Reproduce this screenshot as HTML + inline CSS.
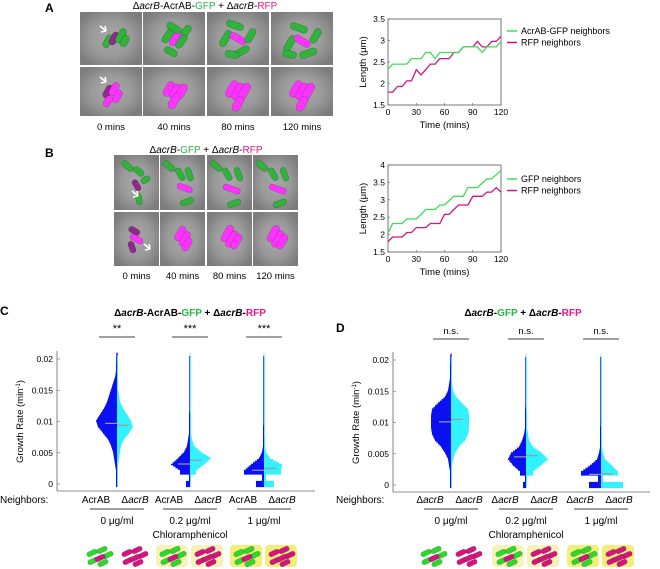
<!DOCTYPE html>
<html><head><meta charset="utf-8"><style>
html,body{margin:0;padding:0;background:#fff}
svg{display:block;font-family:"Liberation Sans",Arial,sans-serif}
</style></head><body>
<svg id="fig" width="660" height="569" viewBox="0 0 660 569" xmlns="http://www.w3.org/2000/svg">
<defs>
<radialGradient id="halo" cx="50%" cy="50%" r="60%"><stop offset="0" stop-color="#a8a8a8"/><stop offset="0.55" stop-color="#9a9a9a"/><stop offset="1" stop-color="#7c7c7c"/></radialGradient>
</defs>
<text x="45" y="12" font-size="12" font-weight="bold">A</text>
<text x="45" y="157" font-size="12" font-weight="bold">B</text>
<text x="0" y="315" font-size="12" font-weight="bold">C</text>
<text x="336" y="332" font-size="12" font-weight="bold">D</text>

<text x="205" y="9" font-size="10" text-anchor="middle">Δ<tspan font-style="italic">acrB</tspan>-AcrAB-<tspan fill="#2db34a">GFP</tspan> + Δ<tspan font-style="italic">acrB</tspan>-<tspan fill="#e4178c">RFP</tspan></text>
<text x="206" y="153" font-size="10" text-anchor="middle">Δ<tspan font-style="italic">acrB</tspan>-<tspan fill="#2db34a">GFP</tspan> + Δ<tspan font-style="italic">acrB</tspan>-<tspan fill="#e4178c">RFP</tspan></text>
<g id="micro"></g>
<g id="charts"></g>

<text x="190" y="316" font-size="10" font-weight="bold" text-anchor="middle">Δ<tspan font-style="italic">acrB</tspan>-AcrAB-<tspan fill="#2db34a">GFP</tspan> + Δ<tspan font-style="italic">acrB</tspan>-<tspan fill="#e4178c">RFP</tspan></text>
<text x="523" y="316" font-size="10" font-weight="bold" text-anchor="middle">Δ<tspan font-style="italic">acrB</tspan>-<tspan fill="#2db34a">GFP</tspan> + Δ<tspan font-style="italic">acrB</tspan>-<tspan fill="#e4178c">RFP</tspan></text>
<g id="violins"></g>
</svg>
<script>
// ---------- Line chart data ----------
const timesMin = [0,5,10,15,20,25,30,35,40,45,50,55,60,65,70,75,80,85,90,95,100,105,110,115,120];
const aGreen = [2.33,2.45,2.45,2.45,2.45,2.58,2.58,2.58,2.72,2.72,2.58,2.72,2.72,2.72,2.72,2.72,2.85,2.85,2.85,2.85,2.72,2.85,2.85,2.85,2.98];
const aRed   = [1.8,1.8,1.93,1.93,2.06,2.06,2.32,2.2,2.32,2.45,2.45,2.58,2.58,2.58,2.72,2.72,2.85,2.85,2.85,2.98,2.85,2.85,2.98,2.98,3.1];
const bGreen = [2.05,2.32,2.32,2.32,2.45,2.45,2.45,2.58,2.72,2.72,2.72,2.85,2.85,2.98,3.1,3.1,3.1,3.35,3.35,3.35,3.48,3.6,3.6,3.72,3.85];
const bRed   = [1.8,1.93,1.93,1.93,2.06,2.06,2.2,2.2,2.2,2.32,2.32,2.32,2.58,2.58,2.72,2.85,2.85,2.85,3.1,3.1,3.1,3.22,3.22,3.35,3.22];
const xTicks = [0,30,60,90,120];
const aYTicks = [1.5,2,2.5,3,3.5];
const bYTicks = [1.5,2,2.5,3,3.5,4];
const aLegend = ["AcrAB-GFP neighbors","RFP neighbors"];
const bLegend = ["GFP neighbors","RFP neighbors"];

// ---------- Violin data (half-widths per 0.001 bin from 0 to 0.020) ----------
const rateTicks = [0,0.005,0.01,0.015,0.02];
const rateTickLabels = ["0","0.005","0.01","0.015","0.02"];
const cLeft1  = [1,1,1,2,3,4,6,9,14,19,21,17,13,10,8,6,4,2,1,1,0.5];
const cRight1 = [0,0,0,1,2,3,4,7,12,16,14,10,6,3,2,1,1,1,0.5,0.5,0.5];
const cLeft2  = [4,1,10,19,12,6,3,2,1,1,1,1,0.5,0.5,0.5,0.5,0.5,0.5,0.5,0.5,0];
const cRight2 = [0,1,6,14,21,11,4,2,1,1,1,1,0.5,0.5,0.5,0.5,0.5,0.5,0.5,0.5,0];
const cLeft3  = [8,2,20,13,5,2,1,1,1,1,0.5,0.5,0.5,0.5,0.5,0.5,0.5,0.5,0.5,0.5,0];
const cRight3 = [10,2,17,18,6,2,1,1,0.5,0.5,0.5,0.5,0.5,0.5,0.5,0.5,0.5,0.5,0.5,0.5,0];
const cMedL = [0.0097,0.0032,0.0022];
const cMedR = [0.0094,0.0038,0.0025];
const dLeft1  = [1,1,1,2,3,6,10,16,19,20,20,20,19,13,6,3,2,1,1,1,0.5];
const dRight1 = [0,0,1,1,2,4,8,14,17,18,18,18,17,11,5,2,1,1,0.5,0.5,0.5];
const dLeft2  = [3,1,6,13,18,15,7,4,2,1,1,1,1,0.5,0.5,0.5,0.5,0.5,0.5,0.5,0];
const dRight2 = [0,1,7,15,22,16,7,3,2,1,1,1,0.5,0.5,0.5,0.5,0.5,0.5,0.5,0.5,0];
const dLeft3  = [12,3,20,11,4,2,1,1,1,1,0.5,0.5,0.5,0.5,0.5,0.5,0.5,0.5,0.5,0.5,0];
const dRight3 = [22,2,17,11,4,2,1,1,0.5,0.5,1,0.5,0.5,0.5,0.5,0.5,0.5,0.5,0.5,0.5,0];
const dMedL = [0.0101,0.0045,0.0017];
const dMedR = [0.0105,0.0047,0.0018];
const cSig = ["**","***","***"];
const dSig = ["n.s.","n.s.","n.s."];
const concLabels = ["0 μg/ml","0.2 μg/ml","1 μg/ml"];

const NS="http://www.w3.org/2000/svg";
function mk(tag, attrs, parent, text){
  const e=document.createElementNS(NS,tag);
  for(const k in attrs) e.setAttribute(k,attrs[k]);
  if(text!==undefined) e.textContent=text;
  parent.appendChild(e); return e;
}

// ---------- Line charts ----------
const charts=document.getElementById('charts');
function lineChart(cfg){
  const g=mk('g',{},charts);
  
  
  const xs=v=>cfg.x0+(v-0)/120*(cfg.x1-cfg.x0);
  const ys=v=>cfg.y1-(v-cfg.ymin)/(cfg.ymax-cfg.ymin)*(cfg.y1-cfg.y0);
  const box=mk('rect',{x:cfg.x0,y:cfg.y0,width:cfg.x1-cfg.x0,height:cfg.y1-cfg.y0,fill:'none',stroke:'#555','stroke-width':0.8},g);
  
  
  xTicks.forEach(t=>{
    mk('line',{x1:xs(t),x2:xs(t),y1:cfg.y1,y2:cfg.y1-2,stroke:'#555','stroke-width':0.6},g);
    const tl=mk('text',{x:xs(t),y:cfg.y1+10,'font-size':8.5,'text-anchor':'middle'},g,String(t));
    
    
  });
  cfg.yt.forEach(t=>{
    mk('line',{x1:cfg.x0,x2:cfg.x0+2,y1:ys(t),y2:ys(t),stroke:'#555','stroke-width':0.6},g);
    const tl=mk('text',{x:cfg.x0-3,y:ys(t)+3,'font-size':8.5,'text-anchor':'end'},g,String(t));
    
    
  });
  const xt=mk('text',{x:(cfg.x0+cfg.x1)/2,y:cfg.y1+23,'font-size':9.5,'text-anchor':'middle'},g,'Time (mins)');
  
  
  const cy=(cfg.y0+cfg.y1)/2;
  const yt=mk('text',{x:cfg.x0-22,y:cy,'font-size':9.5,'text-anchor':'middle',transform:`rotate(-90 ${cfg.x0-22} ${cy})`},g,'Length (μm)');
  
  
  [[cfg.red,'#d4157f'],[cfg.green,'#3fdc55']].forEach(([arr,col],i)=>{
    const p=arr.map((v,j)=>(j?'L':'M')+xs(timesMin[j]).toFixed(1)+' '+ys(v).toFixed(1)).join(' ');
    const l=mk('path',{d:p,fill:'none',stroke:col,'stroke-width':1.3},g);
    
    
  });
  cfg.legend.forEach((s,i)=>{
    const y=cfg.ly+i*11.5;
    mk('line',{x1:cfg.x1+6,x2:cfg.x1+16,y1:y,y2:y,stroke:i?'#d4157f':'#3fdc55','stroke-width':1.5},g);
    const t=mk('text',{x:cfg.x1+20,y:y+3,'font-size':9},g,s);
    
    
  });
}
lineChart({name:'chart-a',x0:388,x1:501,y0:19,y1:105,ymin:1.5,ymax:3.5,yt:aYTicks,green:aGreen,red:aRed,legend:aLegend,ly:31});
lineChart({name:'chart-b',x0:388,x1:501,y0:165,y1:252,ymin:1.5,ymax:4,yt:bYTicks,green:bGreen,red:bRed,legend:bLegend,ly:179});

// ---------- Microscopy panels ----------
const micro=document.getElementById('micro');
function rod(g,cx,cy,len,ang,col,w){
  mk('rect',{x:cx-len/2,y:cy-(w||6)/2,width:len,height:w||6,rx:(w||6)/2,fill:col,stroke:'rgba(0,0,0,0.25)','stroke-width':0.6,transform:`rotate(${ang} ${cx} ${cy})`},g);
}
function tile(x,y,w,h,rods,arrow){
  const g=mk('g',{},micro);
  
  
  mk('rect',{x,y,width:w,height:h,fill:'url(#halo)'},g);
  rods.forEach(r=>rod(g,x+r[0]*w,y+r[1]*h,r[2],r[3],r[4],r[5]));
  if(arrow){ mk('path',{d:`M${x+arrow[0]} ${y+arrow[1]} l6 5 m0 0 l-1 -5 m1 5 l-5 1`,stroke:'#fff','stroke-width':1.6,fill:'none'},g); }
}
const G='#2fb33a', M='#8e2a8e', P='#ff33ff';
const aCols=[80,143,207,271], aW=62;
tile(80,12,aW,53,[[0.45,0.55,14,-60,G,7],[0.55,0.5,14,-60,M,7],[0.66,0.45,16,-60,G,7],[0.72,0.55,12,-60,G,7]],[20,14]);
tile(143,12,aW,53,[[0.4,0.45,16,-55,G,7],[0.52,0.5,16,-55,P,7],[0.62,0.55,16,-55,G,7],[0.5,0.3,16,30,G,7],[0.45,0.75,14,30,G,7],[0.7,0.35,12,-50,G,7]]);
tile(207,12,aW,53,[[0.3,0.5,18,-60,G,7],[0.5,0.5,18,30,P,7],[0.7,0.45,16,-60,G,7],[0.45,0.25,18,20,G,7],[0.55,0.75,18,-30,G,7],[0.4,0.8,14,10,G,7]]);
tile(271,12,aW,53,[[0.3,0.6,18,-60,G,7],[0.5,0.55,18,30,P,7],[0.72,0.45,16,-60,G,7],[0.45,0.3,18,20,G,7],[0.6,0.78,18,-20,G,7],[0.3,0.8,14,10,G,7]]);
tile(80,67,aW,49,[[0.45,0.5,14,-60,M,7],[0.55,0.45,14,-60,P,7],[0.6,0.6,14,-60,P,7],[0.45,0.7,12,-60,P,7]],[20,10]);
tile(143,67,aW,49,[[0.42,0.45,16,-60,P,8],[0.52,0.5,16,-60,P,8],[0.62,0.5,16,-60,P,8],[0.5,0.7,16,-60,P,8]]);
tile(207,67,aW,49,[[0.4,0.45,18,-60,P,8],[0.5,0.5,18,-60,P,8],[0.6,0.5,18,-60,P,8],[0.5,0.75,16,-60,P,8]]);
tile(271,67,aW,49,[[0.4,0.45,18,-60,P,8],[0.5,0.5,18,-60,P,8],[0.6,0.5,18,-60,P,8],[0.5,0.75,16,-60,P,8]]);
const bX=[114,160,207,253], bW=45;
tile(114,155,bW,55,[[0.3,0.2,14,40,G],[0.55,0.3,12,40,G],[0.7,0.45,10,-30,G],[0.5,0.55,12,60,M],[0.55,0.8,12,80,G]],[18,36]);
tile(160,155,bW,55,[[0.2,0.2,14,40,G],[0.45,0.35,14,60,G],[0.65,0.35,14,70,G],[0.55,0.6,16,20,P],[0.6,0.85,14,-20,G]]);
tile(207,155,bW,55,[[0.2,0.2,14,40,G],[0.45,0.35,14,60,G],[0.7,0.35,14,70,G],[0.55,0.62,18,20,P],[0.6,0.88,14,-20,G]]);
tile(253,155,bW,55,[[0.2,0.2,14,40,G],[0.45,0.35,14,60,G],[0.7,0.35,14,70,G],[0.55,0.62,18,20,P],[0.6,0.88,14,-20,G]]);
tile(114,212,bW,54,[[0.45,0.35,12,30,M],[0.5,0.5,14,30,P],[0.4,0.65,12,70,M]],[30,32]);
tile(160,212,bW,54,[[0.45,0.4,16,-60,P,7],[0.55,0.5,16,-60,P,7],[0.6,0.6,14,-60,P,7]]);
tile(207,212,bW,54,[[0.45,0.4,18,-60,P,7],[0.55,0.5,18,-60,P,7],[0.65,0.55,16,-60,P,7]]);
tile(253,212,bW,54,[[0.45,0.4,18,-60,P,7],[0.55,0.5,18,-60,P,7],[0.65,0.55,16,-60,P,7]]);
[[142,12,1,104],[206,12,1,104],[270,12,1,104],[80,66,253,1],[159,155,1,111],[206,155,1,111],[252,155,1,111],[114,211,184,1]].forEach(r=>mk('rect',{x:r[0],y:r[1],width:r[2],height:r[3],fill:'#fff'},micro));
["0 mins","40 mins","80 mins","120 mins"].forEach((s,i)=>{
  const t=mk('text',{x:aCols[i]+31,y:130,'font-size':9.5,'text-anchor':'middle'},micro,s);
  
  
  const t2=mk('text',{x:bX[i]+22.5,y:279,'font-size':9.5,'text-anchor':'middle'},micro,s);
  
  
});

// ---------- Violin panels ----------
const vg=document.getElementById('violins');
function violinPanel(cfg){
  const g=mk('g',{},vg);
  
  
  const ys=v=>cfg.y0-v/0.02*(cfg.y0-cfg.y20);
  mk('line',{x1:cfg.ax,x2:cfg.ax,y1:cfg.y20-8,y2:cfg.axY,stroke:'#666','stroke-width':0.8},g);
  mk('line',{x1:cfg.ax,x2:cfg.axEnd,y1:cfg.axY,y2:cfg.axY,stroke:'#666','stroke-width':0.8},g);
  rateTicks.forEach((t,i)=>{
    mk('line',{x1:cfg.ax,x2:cfg.ax+3,y1:ys(t),y2:ys(t),stroke:'#666','stroke-width':0.6},g);
    const tl=mk('text',{x:cfg.ax-4,y:ys(t)+3,'font-size':8.5,'text-anchor':'end'},g,rateTickLabels[i]);
    
    
  });
  const cy=(cfg.y0+cfg.y20)/2;
  const yt=mk('text',{x:cfg.ax-34,y:cy,'font-size':9.5,'text-anchor':'middle',transform:`rotate(-90 ${cfg.ax-34} ${cy})`},g,'');
  yt.innerHTML='Growth Rate (min<tspan font-size="6" dy="-3">-1</tspan><tspan dy="3">)</tspan>';
  
  
  cfg.groups.forEach((gr,k)=>{
    const cx=cfg.centers[k];
    mk('rect',{x:cx-0.7,y:ys(0.021),width:1.4,height:ys(0)-ys(0.021)+3,fill:k===0?'#0a10f0':'#aef6ff'},g);
    const side=(arr,dir,col,nm)=>{
      // render with 4 sub-steps per bin (linear interpolation between bin widths; the low bins keep their step)
      let d=`M${cx} ${ys(-0.0005).toFixed(1)}`;
      const sub=4, step=0.001/sub;
      for(let i=0;i<arr.length;i++){
        for(let s=0;s<sub;s++){
          const v=i*0.001-0.0005+s*step;
          let w;
          if(i<2){ w=arr[i]; }
          else {
            const f=(v-i*0.001)/0.001; // -0.5..0.25
            const j=f<0?i-1:i+1, ff=Math.abs(f);
            w=(j>=2&&j<arr.length)?arr[i]*(1-ff)+arr[j]*ff:arr[i];
          }
          w=Math.max(w,0.7);
          d+=` L${(cx+dir*w).toFixed(1)} ${ys(v).toFixed(1)} L${(cx+dir*w).toFixed(1)} ${ys(v+step).toFixed(1)}`;
        }
      }
      d+=` L${cx} ${ys(0.0205).toFixed(1)} Z`;
      const p=mk('path',{d,fill:col,stroke:'none'},g);
      
      
    };
    side(gr[0],-1,'#0a10f0','violin-left-half');
    side(gr[1],1,'#33f2ff','violin-right-half');
    mk('line',{x1:cx-12,x2:cx,y1:ys(cfg.medL[k]),y2:ys(cfg.medL[k]),stroke:'#9a9a9a','stroke-width':1.2},g);
    mk('line',{x1:cx,x2:cx+12,y1:ys(cfg.medR[k]),y2:ys(cfg.medR[k]),stroke:'#9a9a9a','stroke-width':1.2},g);
    mk('line',{x1:cx-18,x2:cx+18,y1:cfg.sigY,y2:cfg.sigY,stroke:'#000','stroke-width':0.8},g);
    const st=mk('text',{x:cx,y:cfg.sigY-5,'font-size':cfg.sig[k].includes('*')?11:9.5,'text-anchor':'middle'},g,cfg.sig[k]);
    
    
    const lab=cfg.labels[k];
    [[-21,lab[0]],[18,lab[1]]].forEach(([dx,s])=>{
      const t=mk('text',{x:cx+dx,y:503,'font-size':10,'text-anchor':'middle'},g,'');
      if(s==='AcrAB') t.textContent='AcrAB'; else t.innerHTML='Δ<tspan font-style="italic">acrB</tspan>';
      
      
    });
    mk('line',{x1:cx-27,x2:cx+27,y1:509,y2:509,stroke:'#000','stroke-width':0.7},g);
    const ct=mk('text',{x:cx,y:524,'font-size':10,'text-anchor':'middle'},g,concLabels[k]);
    
    
    const iy=556;
    [[-18,'#2bd82b'],[17,'#d4157f']].forEach(([dx,col],j)=>{
      const ix=cx+dx;
      if(k>0) mk('rect',{x:ix-16,y:iy-11,width:32,height:22,rx:4,fill:k===1?'#f7f3b6':'#f2ee7a'},g);
      const ig=mk('g',{},g);
      
      
      const pos=[[-7,-3,-25,col],[3,-6,-25,col],[9,-1,-25,col],[-6,5,-25,col],[1,2,-25,'#d4157f'],[4,7,-25,col]];
      pos.forEach(p=>rod(ig,ix+p[0],iy+p[1],11,p[2],p[3],5));
    });
  });
  const nb=mk('text',{x:cfg.nbX,y:503,'font-size':10},g,'Neighbors:');
  
  
  const ch=mk('text',{x:cfg.centers[1],y:538,'font-size':10,'text-anchor':'middle'},g,'Chloramphenicol');
  
  
}
violinPanel({name:'violin-chart-c',ax:57,axEnd:315,axY:491,y0:484,y20:359,centers:[117,190,264],
  groups:[[cLeft1,cRight1],[cLeft2,cRight2],[cLeft3,cRight3]],medL:cMedL,medR:cMedR,sig:cSig,sigY:337,
  labels:[['AcrAB','d'],['AcrAB','d'],['AcrAB','d']],nbX:0});
violinPanel({name:'violin-chart-d',ax:393,axEnd:650,axY:492,y0:485,y20:360,centers:[451,526,601],
  groups:[[dLeft1,dRight1],[dLeft2,dRight2],[dLeft3,dRight3]],medL:dMedL,medR:dMedR,sig:dSig,sigY:339,
  labels:[['d','d'],['d','d'],['d','d']],nbX:336});
</script>
</body></html>
